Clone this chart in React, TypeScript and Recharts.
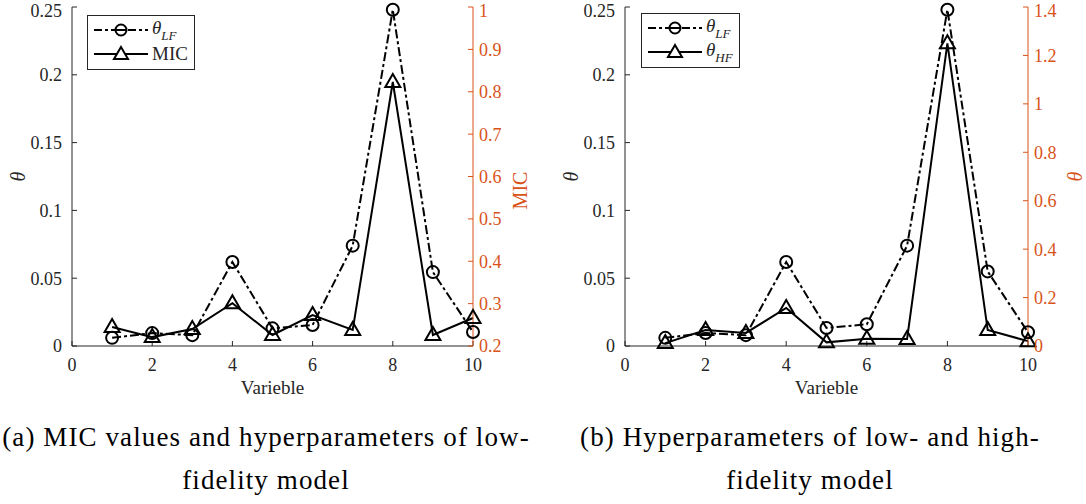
import React from "react"
import { LineChart, Line, XAxis, YAxis, Legend } from "recharts"

const variables = [1, 2, 3, 4, 5, 6, 7, 8, 9, 10]
const thetaLFa = [0.006, 0.0095, 0.008, 0.062, 0.013, 0.0155, 0.074, 0.248, 0.0545, 0.0103]
const micA = [0.245, 0.221, 0.24, 0.301, 0.226, 0.273, 0.238, 0.823, 0.226, 0.266]
const thetaLFb = [0.006, 0.0096, 0.008, 0.062, 0.0133, 0.016, 0.074, 0.248, 0.055, 0.0101]
const thetaHFb = [0.012, 0.066, 0.054, 0.157, 0.015, 0.03, 0.029, 1.25, 0.066, 0.02]

const xTicks = [0, 2, 4, 6, 8, 10]
const thetaTicks = [0, 0.05, 0.1, 0.15, 0.2, 0.25]
const micTicks = [0.2, 0.3, 0.4, 0.5, 0.6, 0.7, 0.8, 0.9, 1]
const hfTicks = [0, 0.2, 0.4, 0.6, 0.8, 1, 1.2, 1.4]

const FONT = "Liberation Serif"
const DARK = "#262626"
const ORANGE = "#D95319"
const DASHDOT = "9 3 3 3"

const CircleDot = (props: any) => {
  const { cx, cy, index } = props
  if (cx == null || cy == null) return <g key={`c${index}`} />
  return <circle key={`c${index}`} cx={cx} cy={cy} r={6} fill="none" stroke="#000" strokeWidth={2} />
}

const TriangleDot = (props: any) => {
  const { cx, cy, index } = props
  if (cx == null || cy == null) return <g key={`t${index}`} />
  const d = `M${cx},${cy - 8} L${cx + 7.5},${cy + 5} L${cx - 7.5},${cy + 5} Z`
  return <path key={`t${index}`} d={d} fill="none" stroke="#000" strokeWidth={2} strokeLinejoin="miter" />
}

const Theta = ({ sub }: { sub?: string }) => (
  <span style={{ fontStyle: "italic" }}>
    θ{sub && <sub style={{ fontSize: 13, verticalAlign: -6 }}>{sub}</sub>}
  </span>
)

type LegendItem = { kind: "circle" | "triangle"; label: React.ReactNode }

const LegendBox = ({ items }: { items: LegendItem[] }) => (
  <div
    style={{
      border: `1px solid ${DARK}`,
      background: "#fff",
      padding: "2px 6px 3px 5px",
      fontFamily: FONT,
      fontSize: 19,
      color: DARK,
    }}
  >
    {items.map((it, i) => (
      <div key={i} style={{ display: "flex", alignItems: "center", height: 24 }}>
        <svg width={56} height={18} style={{ marginRight: 3 }}>
          <line x1={1} x2={55} y1={9} y2={9} stroke="#000" strokeWidth={2}
            strokeDasharray={it.kind === "circle" ? "8 3 3 3" : undefined} />
          {it.kind === "circle"
            ? <circle cx={28} cy={9} r={5.5} fill="#fff" stroke="#000" strokeWidth={2} />
            : <path d="M28,2 L35,14 L21,14 Z" fill="#fff" stroke="#000" strokeWidth={2} />}
          {it.kind === "circle" && <line x1={22} x2={34} y1={9} y2={9} stroke="#000" strokeWidth={2} />}
        </svg>
        <span>{it.label}</span>
      </div>
    ))}
  </div>
)

interface PanelProps {
  lf: number[]
  second: number[]
  rightTicks: number[]
  rightDomain: [number, number]
  rightTitle: React.ReactNode
  rightTitleItalic?: boolean
  legend: LegendItem[]
  legendPos: { left: number; top: number }
  width: number
}

function Panel({ lf, second, rightTicks, rightDomain, rightTitle, rightTitleItalic, legend, legendPos, width }: PanelProps) {
  const data = variables.map((x, i) => ({ x, lf: lf[i], second: second[i] }))
  const tickStyle = { fontFamily: FONT, fontSize: 18 }
  return (
    <LineChart width={width} height={400} data={data} margin={{ top: 7, right: 0, left: 0, bottom: 0 }}>
      <XAxis
        dataKey="x"
        type="number"
        domain={[0, 10]}
        ticks={xTicks}
        height={54}
        tickSize={-5}
        tickMargin={17}
        stroke={DARK}
        tick={{ ...tickStyle, fill: DARK }}
        label={(p: any) => {
          const vb = p.viewBox
          return (
            <text x={vb.x + vb.width / 2} y={vb.y + 48} textAnchor="middle"
              fontFamily={FONT} fontSize={19} fill={DARK}>Varieble</text>
          )
        }}
      />
      <YAxis
        yAxisId="left"
        orientation="left"
        domain={[0, 0.25]}
        ticks={thetaTicks}
        width={72}
        tickSize={-5}
        tickMargin={15}
        stroke={DARK}
        tick={{ ...tickStyle, fill: DARK }}
        label={(p: any) => {
          const vb = p.viewBox
          const cx = vb.x + 18
          const cy = vb.y + vb.height / 2
          return (
            <text x={cx} y={cy} transform={`rotate(-90 ${cx} ${cy})`} textAnchor="middle"
              dominantBaseline="central" fontFamily={FONT} fontStyle="italic" fontSize={20} fill={DARK}>θ</text>
          )
        }}
      />
      <YAxis
        yAxisId="right"
        orientation="right"
        domain={rightDomain}
        ticks={rightTicks}
        width={72}
        tickSize={-5}
        tickMargin={11}
        stroke={ORANGE}
        tick={{ ...tickStyle, fill: ORANGE }}
        label={(p: any) => {
          const vb = p.viewBox
          const cx = vb.x + 47
          const cy = vb.y + vb.height / 2 + (rightTitleItalic ? 0 : 14)
          return (
            <text x={cx} y={cy} transform={`rotate(-90 ${cx} ${cy})`} textAnchor="middle"
              dominantBaseline="central" fontFamily={FONT} fontStyle={rightTitleItalic ? "italic" : "normal"}
              fontSize={20} fill={ORANGE}>{rightTitle}</text>
          )
        }}
      />
      <Legend
        layout="horizontal"
        verticalAlign="middle"
        align="center"
        wrapperStyle={{ left: legendPos.left, top: legendPos.top, width: "auto" }}
        content={() => <LegendBox items={legend} />}
      />
      <Line yAxisId="left" dataKey="lf" name="lf" stroke="#000" strokeWidth={2}
        strokeDasharray={DASHDOT} dot={CircleDot} activeDot={false} isAnimationActive={false} />
      <Line yAxisId="right" dataKey="second" name="second" stroke="#000" strokeWidth={2}
        dot={TriangleDot} activeDot={false} isAnimationActive={false} />
    </LineChart>
  )
}

const captionStyle: React.CSSProperties = {
  position: "absolute",
  top: 416,
  fontFamily: FONT,
  fontSize: 27,
  letterSpacing: 1.1,
  lineHeight: "43px",
  color: "#000",
  textAlign: "center",
  whiteSpace: "nowrap",
}

export default function App() {
  return (
    <div style={{ position: "absolute", left: 0, top: 0, width: 1086, height: 504, background: "#fff" }}>
      <div style={{ position: "absolute", left: 0, top: 0 }}>
        <Panel
          lf={thetaLFa}
          second={micA}
          rightTicks={micTicks}
          rightDomain={[0.2, 1]}
          rightTitle="MIC"
          legend={[
            { kind: "circle", label: <Theta sub="LF" /> },
            { kind: "triangle", label: "MIC" },
          ]}
          legendPos={{ left: 87, top: 15 }}
          width={545}
        />
      </div>
      <div style={{ position: "absolute", left: 553, top: 0 }}>
        <Panel
          lf={thetaLFb}
          second={thetaHFb}
          rightTicks={hfTicks}
          rightDomain={[0, 1.4]}
          rightTitle="θ"
          rightTitleItalic
          legend={[
            { kind: "circle", label: <Theta sub="LF" /> },
            { kind: "triangle", label: <Theta sub="HF" /> },
          ]}
          legendPos={{ left: 88, top: 13 }}
          width={547}
        />
      </div>
      <div style={{ ...captionStyle, left: 0, width: 532 }}>
        (a) MIC values and hyperparameters of low-<br />fidelity model
      </div>
      <div style={{ ...captionStyle, left: 560, width: 500 }}>
        (b) Hyperparameters of low- and high-<br />fidelity model
      </div>
    </div>
  )
}
